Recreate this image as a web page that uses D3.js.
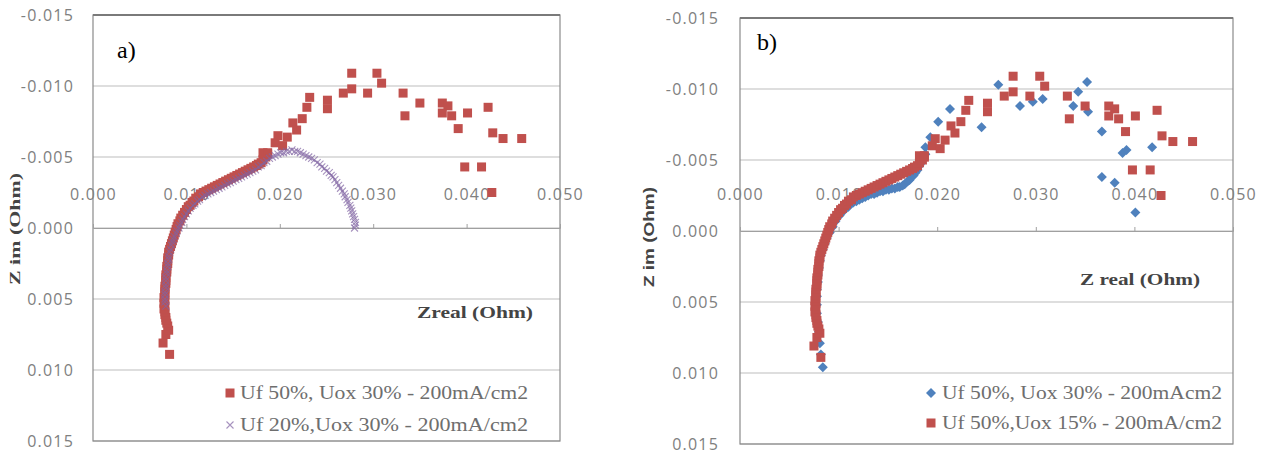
<!DOCTYPE html>
<html>
<head>
<meta charset="utf-8">
<script src="https://cdn.jsdelivr.net/npm/d3@7"></script>
<style>
  html, body { margin: 0; padding: 0; background: #fff; }
  svg { display: block; }
</style>
</head>
<body>
<svg id="chart" width="1267" height="455"></svg>
<script>
// ---------- DATA ----------
const xTicks = [0, 0.01, 0.02, 0.03, 0.04, 0.05];
const yTicks = [-0.015, -0.010, -0.005, 0.000, 0.005, 0.010, 0.015];
const yTickLabels = ["-0.015", "-0.010", "-0.005", "0.000", "0.005", "0.010", "0.015"];
const xTickLabels = ["0.000", "0.010", "0.020", "0.030", "0.040", "0.050"];

// Uf 50%, Uox 30% (panel a) / Uf 50%, Uox 15% (panel b) : [Zreal, Zim]
const seriesRed = [
  [0.0082,0.0089],[0.0075,0.0081],[0.0078,0.0075],[0.0081,0.0072],[0.0080,0.0069],[0.0079,0.0067],
  [0.0078,0.0065],[0.0078,0.0063],[0.0077,0.0061],[0.0077,0.0059],[0.0076,0.0057],[0.0077,0.0055],
  [0.0076,0.0053],[0.0077,0.0051],[0.0076,0.0049],[0.0077,0.0047],[0.0077,0.0045],[0.0077,0.0043],
  [0.0077,0.0041],[0.0078,0.0039],[0.0078,0.0037],[0.0078,0.0035],[0.0078,0.0033],[0.0079,0.0031],
  [0.0079,0.0029],[0.0079,0.0027],[0.0080,0.0025],[0.0080,0.0023],[0.0080,0.0021],[0.0081,0.0019],
  [0.0081,0.0017],[0.0082,0.0015],[0.0083,0.0013],[0.0084,0.0011],[0.0085,0.0009],[0.0086,0.0007],
  [0.0087,0.0005],[0.0088,0.0003],[0.0089,0.0001],[0.0090,-0.0001],[0.0091,-0.0003],[0.0093,-0.0005],
  [0.0094,-0.0007],[0.0096,-0.0009],[0.0098,-0.0011],[0.0100,-0.0013],[0.0102,-0.0015],[0.0104,-0.0016],
  [0.0106,-0.0018],[0.0108,-0.0019],[0.0110,-0.0021],[0.0113,-0.0022],[0.0115,-0.0024],[0.0118,-0.0025],
  [0.0121,-0.0026],[0.0124,-0.0027],[0.0127,-0.0028],[0.0130,-0.0029],[0.0133,-0.0030],[0.0136,-0.0031],
  [0.0139,-0.0032],[0.0142,-0.0033],[0.0145,-0.0034],[0.0148,-0.0035],[0.0151,-0.0036],[0.0154,-0.0037],
  [0.0157,-0.0038],[0.0160,-0.0039],[0.0163,-0.0040],[0.0166,-0.0041],[0.0169,-0.0042],[0.0172,-0.0043],
  [0.0175,-0.0044],[0.0177,-0.0045],[0.0180,-0.0046],[0.0182,-0.0048],[0.0185,-0.0050],[0.0187,-0.0052],
  [0.0182,-0.0053],[0.0187,-0.0053],[0.0195,-0.0060],[0.0198,-0.0065],[0.0203,-0.0058],[0.0208,-0.0064],
  [0.0214,-0.0074],[0.0218,-0.0069],[0.0224,-0.0077],[0.0229,-0.0085],[0.0232,-0.0092],[0.0251,-0.0090],
  [0.0251,-0.0084],[0.0268,-0.0095],[0.0277,-0.0098],[0.0277,-0.0109],[0.0294,-0.0095],[0.0304,-0.0109],
  [0.0309,-0.0102],[0.0332,-0.0095],[0.0334,-0.0079],[0.0350,-0.0088],[0.0374,-0.0088],[0.0380,-0.0086],
  [0.0374,-0.0081],[0.0384,-0.0079],[0.0401,-0.0081],[0.0391,-0.0070],[0.0423,-0.0085],[0.0428,-0.0067],
  [0.0439,-0.0063],[0.0459,-0.0063],[0.0398,-0.0043],[0.0416,-0.0043],[0.0427,-0.0025]
];

// Uf 20%, Uox 30% (panel a)
const seriesPurple = [
  [0.0078,0.0055],[0.0077,0.0052],[0.0077,0.0050],[0.0077,0.0047],[0.0077,0.0045],[0.0078,0.0042],
  [0.0078,0.0040],[0.0078,0.0037],[0.0078,0.0035],[0.0079,0.0032],[0.0079,0.0030],[0.0080,0.0027],
  [0.0080,0.0025],[0.0081,0.0022],[0.0081,0.0020],[0.0082,0.0017],[0.0083,0.0015],[0.0084,0.0012],
  [0.0085,0.0010],[0.0086,0.0008],[0.0087,0.0006],[0.0089,0.0004],[0.0090,0.0002],[0.0092,0.0000],
  [0.0093,-0.0002],[0.0095,-0.0004],[0.0096,-0.0006],[0.0098,-0.0008],[0.0100,-0.0010],[0.0102,-0.0012],
  [0.0104,-0.0014],[0.0107,-0.0016],[0.0109,-0.0017],[0.0112,-0.0019],[0.0114,-0.0020],[0.0117,-0.0022],
  [0.0120,-0.0023],[0.0123,-0.0024],[0.0126,-0.0025],[0.0129,-0.0026],[0.0132,-0.0027],[0.0135,-0.0028],
  [0.0138,-0.0029],[0.0141,-0.0030],[0.0144,-0.0031],[0.0147,-0.0032],[0.0150,-0.0033],[0.0153,-0.0034],
  [0.0156,-0.0035],[0.0159,-0.0036],[0.0162,-0.0037],[0.0165,-0.0038],[0.0168,-0.0039],[0.0171,-0.0040],
  [0.0174,-0.0041],[0.0177,-0.0043],[0.0180,-0.0044],[0.0183,-0.0046],[0.0186,-0.0047],[0.0189,-0.0049],
  [0.0192,-0.0050],[0.0195,-0.0051],[0.0198,-0.0052],[0.0201,-0.0053],[0.0204,-0.0053],[0.0207,-0.0054],
  [0.0210,-0.0054],[0.0213,-0.0055],[0.0216,-0.0054],[0.0219,-0.0054],[0.0222,-0.0053],[0.0225,-0.0052],
  [0.0228,-0.0051],[0.0231,-0.0050],[0.0234,-0.0049],[0.0237,-0.0048],[0.0240,-0.0046],[0.0243,-0.0045],
  [0.0245,-0.0043],[0.0248,-0.0042],[0.0250,-0.0040],[0.0253,-0.0039],[0.0255,-0.0037],[0.0257,-0.0036],
  [0.0259,-0.0034],[0.0261,-0.0032],[0.0263,-0.0030],[0.0265,-0.0028],[0.0267,-0.0026],[0.0269,-0.0024],
  [0.0270,-0.0022],[0.0272,-0.0020],[0.0273,-0.0018],[0.0275,-0.0016],[0.0276,-0.0014],[0.0277,-0.0012],
  [0.0278,-0.0010],[0.0279,-0.0008],[0.0280,-0.0006],[0.0281,-0.0004],[0.0281,-0.0002],[0.0280,0.0000]
];

// Uf 50%, Uox 30% (panel b)
const seriesBlue = [
  [0.0084,0.0096],[0.0082,0.0087],[0.0081,0.0079],[0.0080,0.0071],[0.0079,0.0064],[0.0078,0.0058],
  [0.0078,0.0052],[0.0078,0.0046],[0.0078,0.0041],[0.0079,0.0036],[0.0079,0.0031],[0.0080,0.0026],
  [0.0081,0.0021],[0.0082,0.0017],[0.0084,0.0013],[0.0086,0.0009],[0.0088,0.0005],[0.0091,0.0001],
  [0.0094,-0.0003],[0.0097,-0.0007],[0.0101,-0.0011],[0.0105,-0.0014],[0.0110,-0.0017],[0.0115,-0.0020],
  [0.0118,-0.0021],[0.0121,-0.0022],[0.0124,-0.0023],[0.0127,-0.0024],[0.0130,-0.0025],[0.0133,-0.0026],
  [0.0136,-0.0026],[0.0139,-0.0027],[0.0142,-0.0028],[0.0145,-0.0028],[0.0148,-0.0029],[0.0151,-0.0029],
  [0.0154,-0.0030],[0.0157,-0.0030],[0.0160,-0.0031],[0.0162,-0.0031],[0.0165,-0.0032],[0.0167,-0.0033],
  [0.0170,-0.0035],[0.0172,-0.0036],[0.0174,-0.0038],[0.0176,-0.0039],[0.0178,-0.0041],[0.0180,-0.0043],
  [0.0182,-0.0046],[0.0184,-0.0048],[0.0186,-0.0051],[0.0188,-0.0054],
  [0.0188,-0.0059],[0.0193,-0.0066],[0.0201,-0.0077],[0.0213,-0.0086],[0.0245,-0.0073],[0.0262,-0.0103],
  [0.0284,-0.0088],[0.0297,-0.0091],[0.0307,-0.0093],[0.0343,-0.0098],[0.0352,-0.0105],[0.0338,-0.0088],
  [0.0353,-0.0084],[0.0367,-0.0070],[0.0388,-0.0055],[0.0392,-0.0057],[0.0367,-0.0038],[0.0380,-0.0034],
  [0.0401,-0.0013],[0.0418,-0.0059]
];

const legendA = ["Uf 50%, Uox 30% - 200mA/cm2", "Uf 20%,Uox 30% - 200mA/cm2"];
const legendB = ["Uf 50%, Uox 30% - 200mAcm2", "Uf 50%,Uox 15% - 200mA/cm2"];

// ---------- DRAWING ----------
const svg = d3.select("#chart");
const RED = "#C0504D", PURPLE = "#8064A2", BLUE = "#4F81BD";

function drawMarker(g, type, cx, cy) {
  if (type === "square") {
    g.append("rect").attr("x", cx - 4.5).attr("y", cy - 4.5).attr("width", 9).attr("height", 9).attr("fill", RED);
  } else if (type === "x") {
    g.append("path").attr("d", `M${cx-3.5},${cy-3.5}L${cx+3.5},${cy+3.5}M${cx-3.5},${cy+3.5}L${cx+3.5},${cy-3.5}`)
      .attr("stroke", PURPLE).attr("stroke-width", 1.1).attr("fill", "none").attr("opacity", 0.7);
  } else {
    g.append("path").attr("d", `M${cx},${cy-5}L${cx+5},${cy}L${cx},${cy+5}L${cx-5},${cy}Z`).attr("fill", BLUE);
  }
}

function panel(cfg) {
  const x = d3.scaleLinear().domain([0, 0.05]).range([cfg.left, cfg.right]);
  const y = d3.scaleLinear().domain([-0.015, 0.015]).range([cfg.top, cfg.bottom]);
  const g = svg.append("g");

  // gridlines
  g.selectAll(".grid").data(yTicks).enter().append("line")
    .attr("x1", cfg.left).attr("x2", cfg.right)
    .attr("y1", d => y(d)).attr("y2", d => y(d))
    .attr("stroke", "#bdbdbd").attr("stroke-width", 1.2);

  // plot border
  g.append("rect").attr("x", cfg.left).attr("y", cfg.top)
    .attr("width", cfg.right - cfg.left).attr("height", cfg.bottom - cfg.top)
    .attr("fill", "none").attr("stroke", "#8a8a8a").attr("stroke-width", 1.2);
  g.append("line").attr("x1", cfg.left).attr("x2", cfg.right).attr("y1", cfg.top).attr("y2", cfg.top)
    .attr("stroke", "#7a7a7a").attr("stroke-width", 2);

  // y axis labels
  const yAxis = d3.axisLeft(y).tickValues(yTicks).tickSize(0).tickPadding(0)
    .tickFormat((d, i) => yTickLabels[i]);
  const ya = g.append("g").attr("transform", `translate(${cfg.yLabelX},0)`).call(yAxis);
  ya.select(".domain").remove();
  ya.selectAll("text").attr("font-family", "'Open Sans', sans-serif").attr("font-size", 16)
    .attr("letter-spacing", 1.2).attr("fill", "#808080");

  // x axis at y = 0, labels above
  const xAxis = d3.axisTop(x).tickValues(xTicks).tickSize(4).tickPadding(cfg.xLabelPad)
    .tickFormat((d, i) => xTickLabels[i]);
  const xa = g.append("g").attr("transform", `translate(0,${y(0)})`).call(xAxis);
  xa.select(".domain").attr("stroke", "#a0a0a0");
  xa.selectAll(".tick line").attr("stroke", "#a0a0a0");
  xa.selectAll("text").attr("font-family", "'Open Sans', sans-serif").attr("font-size", 16)
    .attr("letter-spacing", 1.2).attr("fill", "#808080");

  // series
  cfg.series.forEach(s => {
    const sg = g.append("g");
    s.data.forEach(p => drawMarker(sg, s.type, x(p[0]), y(p[1])));
  });

  // panel label
  g.append("text").attr("x", cfg.tagX).attr("y", cfg.tagY).text(cfg.tag)
    .attr("font-family", "'Liberation Serif', serif").attr("font-size", 24).attr("fill", "#000");

  // axis titles
  g.append("text").attr("x", cfg.xTitleX).attr("y", cfg.xTitleY).text(cfg.xTitle)
    .attr("text-anchor", "middle").attr("font-family", "'Liberation Serif', serif")
    .attr("font-weight", "bold").attr("font-size", 17).attr("fill", "#444")
    .attr("textLength", cfg.xTitleLen).attr("lengthAdjust", "spacingAndGlyphs");
  g.append("text").attr("transform", `translate(${cfg.yTitleX},${cfg.yTitleY}) rotate(-90)`)
    .text("Z im (Ohm)").attr("text-anchor", "middle").attr("font-family", cfg.yTitleFont)
    .attr("font-weight", "bold").attr("font-size", 15).attr("fill", "#444")
    .attr("textLength", cfg.yTitleLen).attr("lengthAdjust", "spacingAndGlyphs");

  // legend
  cfg.legend.forEach((txt, i) => {
    const ly = cfg.legendY[i];
    drawMarker(g, cfg.series[i].type, cfg.legendMarkX, ly);
    g.append("text").attr("x", cfg.legendTextX).attr("y", ly + 6).text(txt)
      .attr("font-family", "'Liberation Serif', serif").attr("font-size", 18).attr("fill", "#6e6e6e")
      .attr("textLength", cfg.legendLen).attr("lengthAdjust", "spacingAndGlyphs");
  });
}

panel({
  left: 93, right: 560, top: 15, bottom: 441,
  yLabelX: 74, xLabelPad: 24,
  series: [{ type: "square", data: seriesRed }, { type: "x", data: seriesPurple }],
  tag: "a)", tagX: 117, tagY: 58,
  xTitle: "Zreal (Ohm)", xTitleX: 475, xTitleY: 318, xTitleLen: 116,
  yTitleX: 20, yTitleY: 229, yTitleLen: 112, yTitleFont: "'Liberation Serif', serif",
  legend: legendA, legendY: [393, 425], legendMarkX: 230, legendTextX: 240, legendLen: 288
});

panel({
  left: 740, right: 1233, top: 18, bottom: 444,
  yLabelX: 719, xLabelPad: 27,
  series: [{ type: "diamond", data: seriesBlue }, { type: "square", data: seriesRed }],
  tag: "b)", tagX: 757, tagY: 50,
  xTitle: "Z real (Ohm)", xTitleX: 1140, xTitleY: 285, xTitleLen: 120,
  yTitleX: 654, yTitleY: 237, yTitleLen: 100, yTitleFont: "'Liberation Sans', sans-serif",
  legend: legendB, legendY: [393, 423], legendMarkX: 931, legendTextX: 942, legendLen: 280
});
</script>
</body>
</html>
